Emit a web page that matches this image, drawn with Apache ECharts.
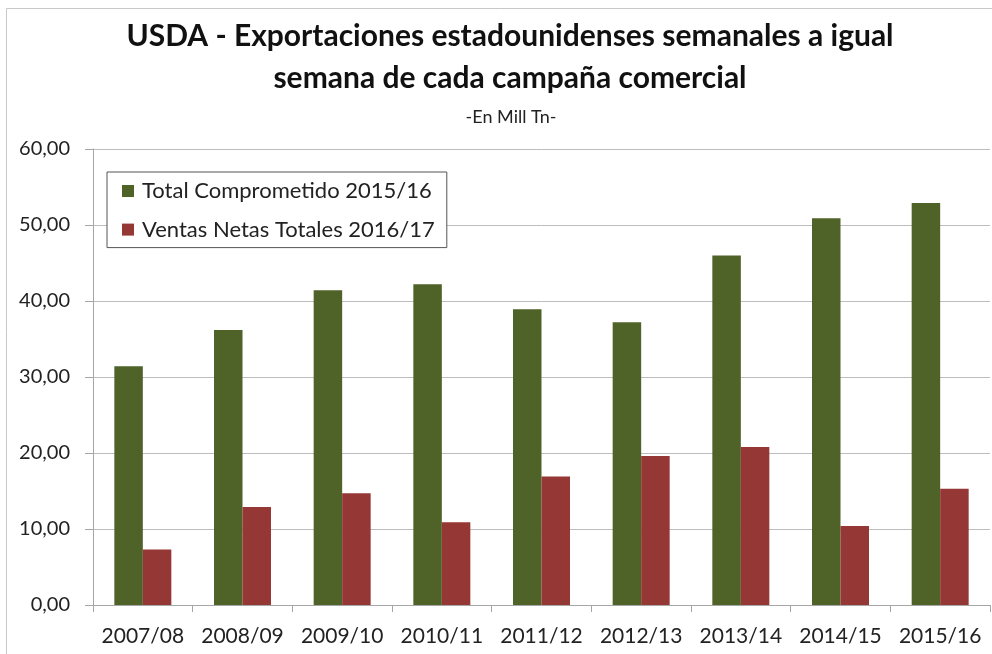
<!DOCTYPE html>
<html><head><meta charset="utf-8">
<script src="https://cdn.jsdelivr.net/npm/echarts@6/dist/echarts.min.js"></script>
<style>html,body{margin:0;padding:0;background:#fff}#c{width:992px;height:654px}</style>
</head><body><div id="c"></div>
<script>
const categories = ['2007/08','2008/09','2009/10','2010/11','2011/12','2012/13','2013/14','2014/15','2015/16'];
const totalComprometido = [31.4, 36.2, 41.4, 42.2, 38.9, 37.2, 46.0, 50.9, 52.9];
const ventasNetas = [7.3, 12.9, 14.7, 10.9, 16.9, 19.6, 20.8, 10.4, 15.3];
const seriesNames = ['Total Comprometido 2015/16', 'Ventas Netas Totales 2016/17'];
const titleLines = ['USDA - Exportaciones estadounidenses semanales a igual', 'semana de cada campaña comercial'];
const subtitle = '-En Mill Tn-';

const FONT = 'Lato';
const chart = echarts.init(document.getElementById('c'), null, {renderer: 'canvas'});
chart.setOption({
  backgroundColor: '#fff',
  animation: false,
  textStyle: {fontFamily: FONT},
  title: [
    {text: titleLines.join('\n'), left: 505, top: 10, textAlign: 'center', textStyle: {fontFamily: FONT, fontSize: 30, fontWeight: 'bold', color: '#111', lineHeight: 42}},
    {text: subtitle, left: 506, top: 103, textAlign: 'center', textStyle: {fontFamily: FONT, fontSize: 18, fontWeight: 'normal', color: '#222', lineHeight: 18}}
  ],
  graphic: [
    {type: 'rect', shape: {x: 6.5, y: 8.5, width: 1000, height: 700}, style: {fill: 'none', stroke: '#c8c8c8', lineWidth: 1}, silent: true}
  ],
  legend: {
    orient: 'vertical', left: 107, top: 172,
    padding: [7, 12, 6, 15],
    itemWidth: 12, itemHeight: 12, itemGap: 14.6,
    borderColor: '#555', borderWidth: 1, backgroundColor: '#fff',
    textStyle: {fontFamily: FONT, fontSize: 22, color: '#222', lineHeight: 24, padding: [0, 0, 0, 3]},
    data: seriesNames, icon: 'rect'
  },
  grid: {left: 93, right: 2, top: 149, bottom: 49, containLabel: false},
  xAxis: {
    type: 'category', data: categories,
    axisLine: {show: true, lineStyle: {color: '#a6a6a6', width: 1}},
    axisTick: {show: true, length: 7, lineStyle: {color: '#a6a6a6'}},
    axisLabel: {interval: 0, hideOverlap: false, fontFamily: FONT, fontSize: 21, color: '#222', margin: 21}
  },
  yAxis: {
    type: 'value', min: 0, max: 60, interval: 10,
    axisLine: {show: true, lineStyle: {color: '#a6a6a6', width: 1}},
    axisTick: {show: true, inside: false, length: 8, lineStyle: {color: '#a6a6a6'}},
    splitLine: {show: true, lineStyle: {color: '#bdbdbd', width: 1}},
    axisLabel: {fontFamily: FONT, fontSize: 20, color: '#222', margin: 23, formatter: v => v.toFixed(2).replace('.', ',')}
  },
  series: [
    {name: seriesNames[0], type: 'bar', data: totalComprometido, barWidth: 28.5, barGap: '0%', itemStyle: {color: '#4F6228'}},
    {name: seriesNames[1], type: 'bar', data: ventasNetas, barWidth: 28.5, barGap: '0%', itemStyle: {color: '#953735'}}
  ]
});
</script></body></html>
